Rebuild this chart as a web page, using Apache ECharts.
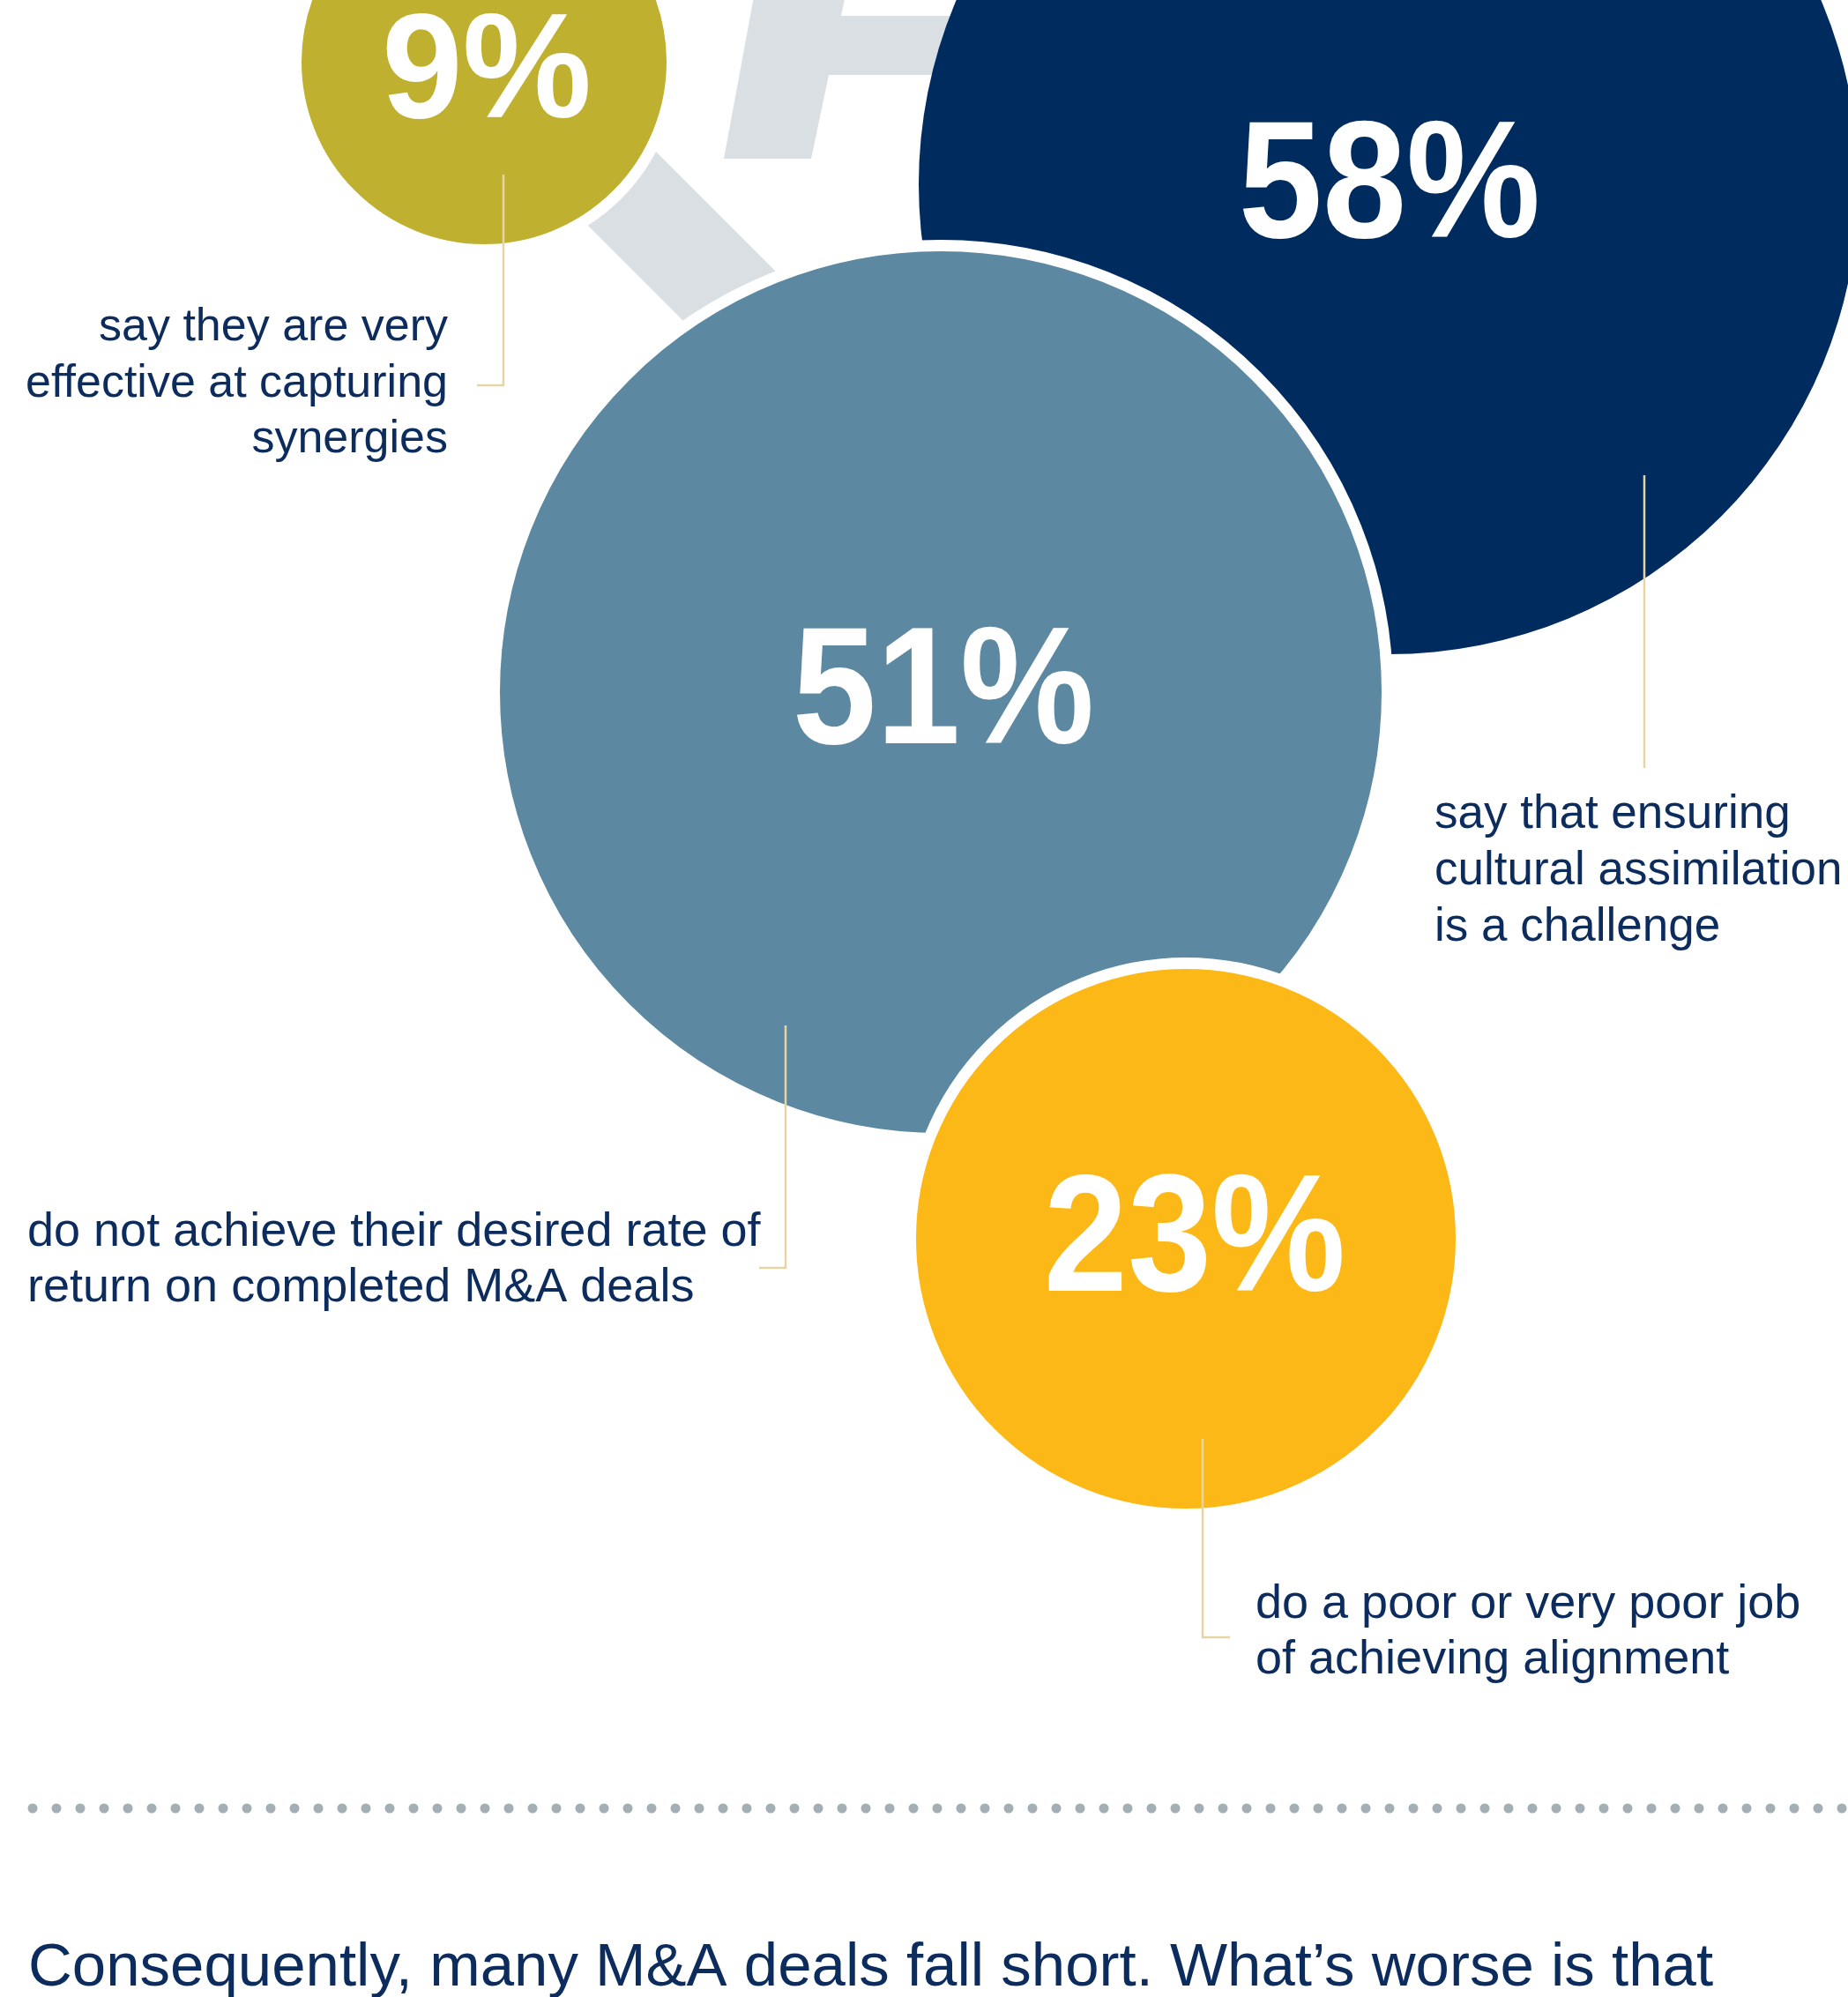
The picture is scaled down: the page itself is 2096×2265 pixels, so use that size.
<!DOCTYPE html>
<html>
<head>
<meta charset="utf-8">
<script src="https://cdn.jsdelivr.net/npm/echarts@6/dist/echarts.min.js"></script>
<style>
  html, body { margin: 0; padding: 0; background: #ffffff; }
  #chart { width: 2096px; height: 2265px; }
</style>
</head>
<body>
<div id="chart"></div>
<script>
// ---- data ----
const categories = ['Capturing synergies', 'Cultural assimilation', 'Rate of return', 'Achieving alignment'];
const values = [9, 58, 51, 23];
const descriptions = [
  'say they are very\neffective at capturing\nsynergies',
  'say that ensuring\ncultural assimilation\nis a challenge',
  'do not achieve their desired rate of\nreturn on completed M&A deals',
  'do a poor or very poor job\nof achieving alignment'
];
const footerText = 'Consequently, many M\u0026A deals fall short. What\u2019s worse is that';

// ---- layout / style (kept apart from data) ----
const W = 2096, H = 2265;
const bubbleLayout = [
  { x: 549,  y: 70,   r: 207, gap: 13, color: '#C0B030', z: 3, font: 168, sx: 0.98, dx: 3,  dy: 7 },
  { x: 1575, y: 209,  r: 533, gap: 0,  color: '#002B5F', z: 2, font: 190, sx: 0.90, dx: 1,  dy: -4 },
  { x: 1067, y: 785,  r: 500, gap: 13, color: '#5C89A1', z: 4, font: 190, sx: 0.90, dx: 3,  dy: -6 },
  { x: 1345, y: 1405, r: 306, gap: 13, color: '#FCB817', z: 5, font: 190, sx: 0.90, dx: 10, dy: -5 }
];
const leaderPaths = [
  [[571, 198], [571, 437], [541, 437]],
  [[1865, 539], [1865, 871]],
  [[891, 1163], [891, 1438], [861, 1438]],
  [[1364, 1632], [1364, 1857], [1395, 1857]]
];
const textLayout = [
  { x: 508,  baseline: 386,  size: 52, lh: 63.5, align: 'right' },
  { x: 1627, baseline: 939,  size: 53, lh: 64,   align: 'left' },
  { x: 31,   baseline: 1413, size: 54, lh: 63,   align: 'left' },
  { x: 1424, baseline: 1835, size: 54, lh: 63,   align: 'left' }
];

const TEXT_COLOR = '#0D2C5E';
const BODY_FONT = '"Liberation Sans", Arial, Helvetica, sans-serif';
const NUM_FONT = '"Liberation Sans", Arial, Helvetica, sans-serif';

const chart = echarts.init(document.getElementById('chart'), null, { renderer: 'canvas', width: W, height: H });

const bubbleSeries = values.map((v, i) => {
  const L = bubbleLayout[i];
  return {
    type: 'scatter',
    name: categories[i],
    z: L.z,
    silent: true,
    clip: false,
    symbol: 'circle',
    symbolSize: 2 * (L.r + L.gap / 2),
    itemStyle: { color: L.color, borderColor: '#ffffff', borderWidth: L.gap, opacity: 1 },
    label: { show: false },
    emphasis: { disabled: true },
    data: [[L.x, L.y, v]]
  };
});

const leaderSeries = {
  type: 'lines',
  coordinateSystem: 'cartesian2d',
  polyline: true,
  silent: true,
  z: 6,
  lineStyle: { color: '#E6D5A3', width: 2.5, opacity: 1 },
  data: leaderPaths.map(p => ({ coords: p }))
};

const greyShapes = [
  [[858, -20], [962, -20], [954, 18], [1300, 18], [1300, 85], [940, 85], [920, 180], [821, 180]],
  [[650, 78], [950, 378], [870, 459], [570, 159]]
];

chart.setOption({
  animation: false,
  backgroundColor: '#ffffff',
  grid: { left: 0, right: 0, top: 0, bottom: 0, containLabel: false },
  xAxis: { type: 'value', min: 0, max: W, show: false },
  yAxis: { type: 'value', min: 0, max: H, inverse: true, show: false },
  series: bubbleSeries.concat([leaderSeries])
});

const graphics = [];
greyShapes.forEach(pts => {
  graphics.push({
    type: 'polygon', z: 1, silent: true,
    shape: { points: pts.map(p => chart.convertToPixel({ gridIndex: 0 }, p)) },
    style: { fill: '#D9DFE2' }
  });
});
// percentage labels, placed at each bubble's centre through the axes
values.forEach((v, i) => {
  const L = bubbleLayout[i];
  const c = chart.convertToPixel({ gridIndex: 0 }, [L.x, L.y]);
  graphics.push({
    type: 'text', z: 20, silent: true,
    x: c[0] + L.dx, y: c[1] + L.dy + 0.56 * L.font,
    scaleX: L.sx,
    style: {
      text: v + '%', fill: '#ffffff', fontFamily: NUM_FONT, fontWeight: 'bold',
      fontSize: L.font, align: 'center', verticalAlign: 'bottom'
    }
  });
});
descriptions.forEach((t, i) => {
  const T = textLayout[i];
  graphics.push({
    type: 'text', z: 10, silent: true,
    x: T.x, y: T.baseline - 0.27 * T.size - T.lh / 2,
    style: {
      text: t, fill: TEXT_COLOR, fontFamily: BODY_FONT, fontSize: T.size,
      align: T.align, verticalAlign: 'top', lineHeight: T.lh
    }
  });
});
graphics.push({
  type: 'line', z: 1, silent: true,
  shape: { x1: 37, y1: 2051, x2: 2110, y2: 2051 },
  style: { stroke: '#A4AFB5', lineWidth: 11, lineDash: [0.01, 26.99], lineCap: 'round' }
});
graphics.push({
  type: 'text', z: 10, silent: true,
  x: 32, y: 2256 - 0.33 * 69,
  style: {
    text: footerText, fill: TEXT_COLOR, fontFamily: BODY_FONT, fontSize: 69,
    align: 'left', verticalAlign: 'middle'
  }
});

chart.setOption({ graphic: graphics });
</script>
</body>
</html>
